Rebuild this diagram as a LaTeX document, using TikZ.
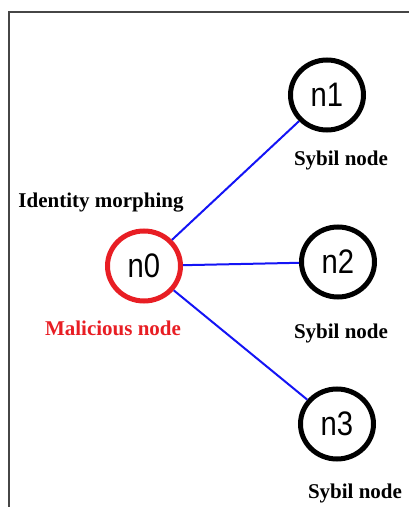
\documentclass[tikz,border=0pt]{standalone}
\usepackage{fontspec}
\setmainfont{Liberation Serif}
\newfontfamily\nodefont{Liberation Sans}
\usetikzlibrary{shapes.geometric}
\newcommand{\peerlabel}[1]{\scalebox{0.86}[1]{#1}}
\tikzset{
  x=1pt, y=1pt,
  peer/.style={ellipse, draw=black, line width=5pt, minimum width=73pt, minimum height=70pt,
    inner sep=0pt, font=\nodefont\fontsize{34}{34}\selectfont},
  attacker/.style={peer, draw={rgb,255:red,232;green,30;blue,36}},
  link/.style={draw={rgb,255:red,20;green,20;blue,245}, line width=2pt},
  caption/.style={font=\bfseries\fontsize{21}{21}\selectfont, inner sep=0pt},
  frame/.style={draw={rgb,255:red,70;green,70;blue,70}, line width=1.5pt}
}
\begin{document}
\begin{tikzpicture}
\useasboundingbox (0,0) rectangle (409,507);
% open frame round the figure
\draw[frame] (9,-5) -- (9,495) -- (415,495);
% peers
\node[attacker] (n0) at (144,241) {\peerlabel{n0}};
\node[peer] (n1) at (327,412) {\peerlabel{n1}};
\node[peer] (n2) at (338,245) {\peerlabel{n2}};
\node[peer] (n3) at (337,83) {\peerlabel{n3}};
% links from the malicious node to its sybil identities
\draw[link] (n0) -- (n1);
\draw[link] (n0) -- (n2);
\draw[link] (n0) -- (n3);
% captions
\node[caption] (lid) at (101,304) {Identity morphing};
\node[caption, text={rgb,255:red,232;green,30;blue,36}] (lmal) at (113,179) {Malicious node};
\node[caption] (l1) at (341,347) {Sybil node};
\node[caption] (l2) at (341,174) {Sybil node};
\node[caption] (l3) at (355,14) {Sybil node};
\end{tikzpicture}
\end{document}
